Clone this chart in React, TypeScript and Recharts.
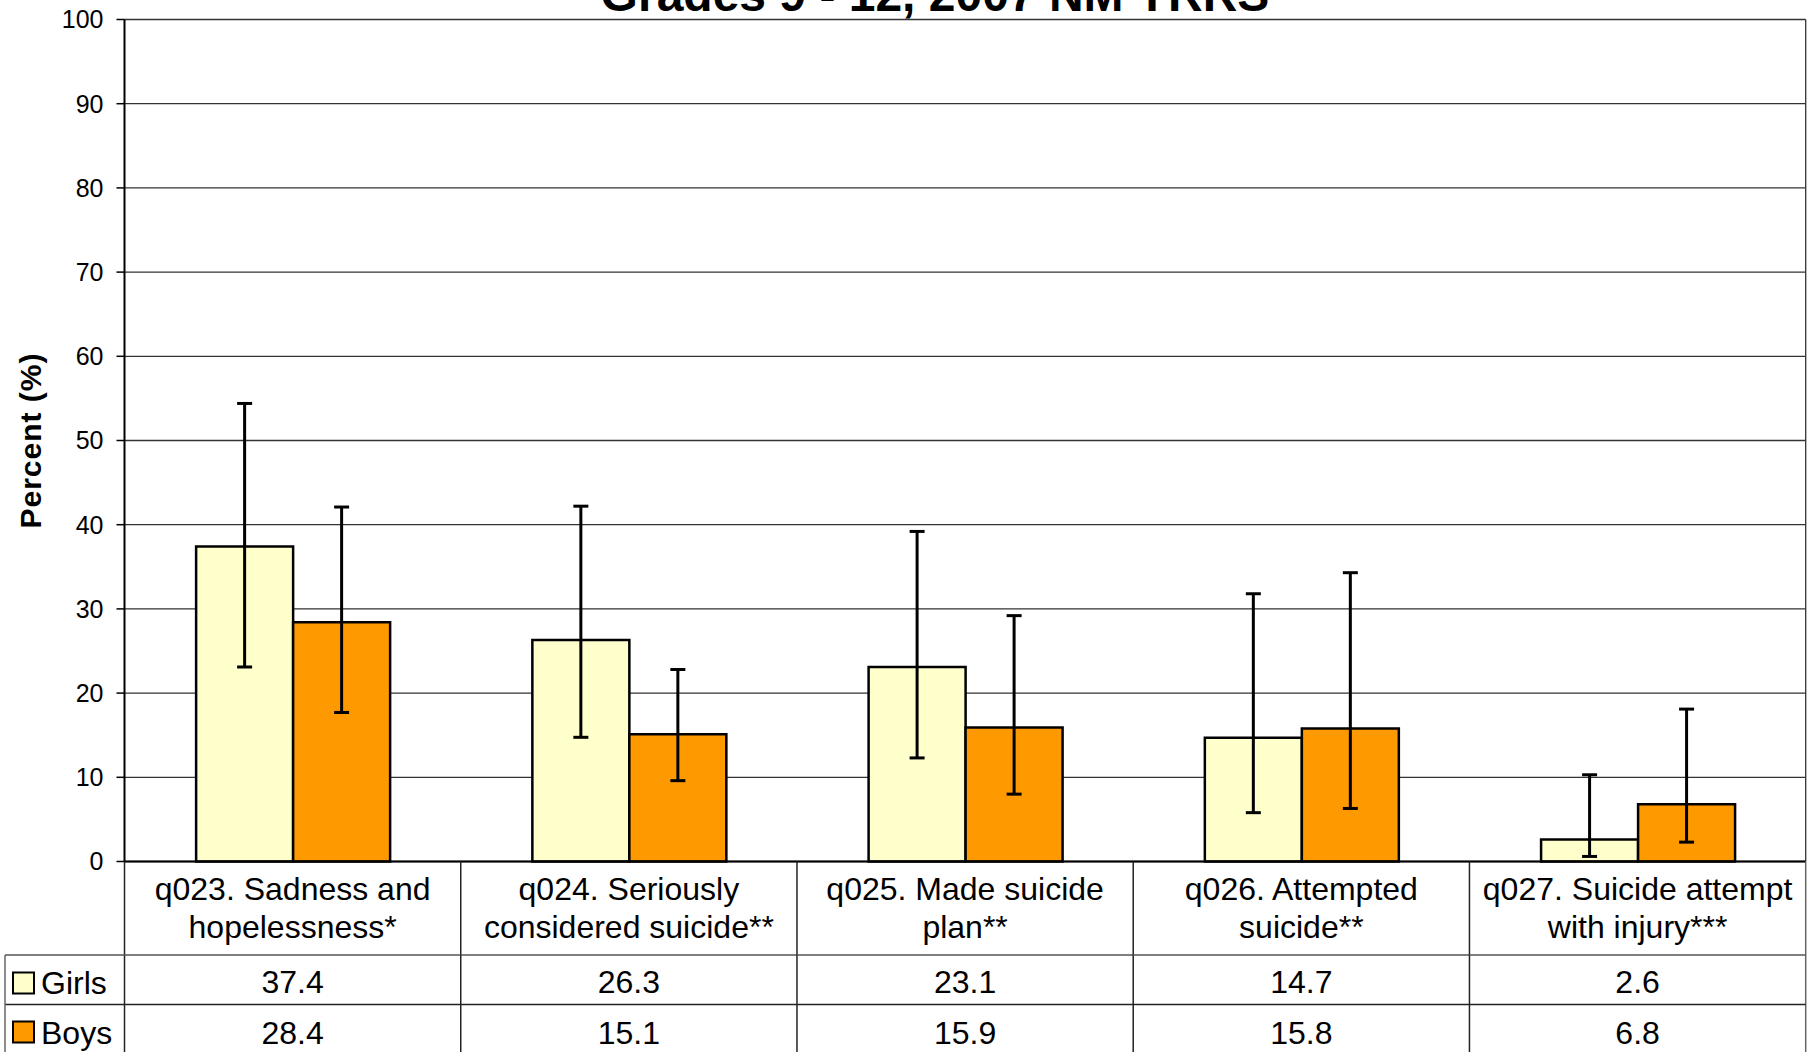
import React from 'react';
import { BarChart, Bar, XAxis, YAxis, CartesianGrid, ErrorBar } from 'recharts';

const FONT = '"Liberation Sans", Arial, sans-serif';

const categories = ['q023', 'q024', 'q025', 'q026', 'q027'];
const categoryLines = [
  ['q023. Sadness and', 'hopelessness*'],
  ['q024. Seriously', 'considered suicide**'],
  ['q025. Made suicide', 'plan**'],
  ['q026. Attempted', 'suicide**'],
  ['q027. Suicide attempt', 'with injury***'],
];
const girls = [37.4, 26.3, 23.1, 14.7, 2.6];
const boys = [28.4, 15.1, 15.9, 15.8, 6.8];
const girlsLow = [23.1, 14.75, 12.3, 5.8, 0.6];
const girlsHigh = [54.4, 42.2, 39.2, 31.8, 10.3];
const boysLow = [17.7, 9.6, 8.0, 6.3, 2.3];
const boysHigh = [42.1, 22.8, 29.2, 34.3, 18.1];
const yTicks = [0, 10, 20, 30, 40, 50, 60, 70, 80, 90, 100];
const seriesNames = ['Girls', 'Boys'];
const seriesColors = ['#FFFFCC', '#FF9900'];

const data = categories.map((c, i) => ({
  name: c,
  girls: girls[i],
  boys: boys[i],
  girlsErr: [+(girls[i] - girlsLow[i]).toFixed(2), +(girlsHigh[i] - girls[i]).toFixed(2)],
  boysErr: [+(boys[i] - boysLow[i]).toFixed(2), +(boysHigh[i] - boys[i]).toFixed(2)],
}));

const LINE = '#222';

const TableTick = (props: any) => {
  const { x, y, payload, index, visibleTicksCount, width } = props;
  const half = payload && payload.offset ? payload.offset : (width || 1681) / (visibleTicksCount || 5) / 2;
  const left = x - half;
  const right = x + half;
  const r1 = y + 93.5;
  const r2 = y + 143;
  const bottom = y + 200;
  const lines = categoryLines[index] || [String(payload.value)];
  const txt = { fontFamily: FONT, fontSize: 32, fill: '#000', textAnchor: 'middle' as const };
  const legendLeft = left - 119.5;
  return (
    <g>
      <line x1={left} y1={y} x2={left} y2={bottom} stroke={LINE} strokeWidth={1.5} />
      {index === (visibleTicksCount || 5) - 1 && (
        <line x1={right} y1={y} x2={right} y2={bottom} stroke="#666" strokeWidth={1.5} />
      )}
      <line x1={index === 0 ? legendLeft : left} y1={r1} x2={right} y2={r1} stroke="#555" strokeWidth={1.5} />
      <line x1={index === 0 ? legendLeft : left} y1={r2} x2={right} y2={r2} stroke={LINE} strokeWidth={1.5} />
      {lines.map((l, k) => (
        <text key={k} x={x} y={y + 38.5 + k * 37.5} {...txt}>{l}</text>
      ))}
      <text x={x} y={y + 131.5} {...txt}>{girls[index].toFixed(1)}</text>
      <text x={x} y={y + 182} {...txt}>{boys[index].toFixed(1)}</text>
      {index === 0 && (
        <g>
          <line x1={legendLeft} y1={r1} x2={legendLeft} y2={bottom} stroke="#666" strokeWidth={1.5} />
          {seriesNames.map((s, k) => (
            <g key={s}>
              <rect x={legendLeft + 8} y={y + 111 + k * 49} width={21} height={21} fill={seriesColors[k]} stroke="#000" strokeWidth={2} />
              <text x={legendLeft + 36} y={y + 132 + k * 50} fontFamily={FONT} fontSize={32} fill="#000">{s}</text>
            </g>
          ))}
        </g>
      )}
    </g>
  );
};

const YLabel = (props: any) => {
  const vb = props.viewBox || {};
  const cx = (vb.x || 0) + 30.5;
  const cy = (vb.y || 0) + (vb.height || 0) / 2;
  return (
    <text
      x={cx}
      y={cy}
      transform={`rotate(-90, ${cx}, ${cy})`}
      textAnchor="middle"
      dominantBaseline="central"
      fontFamily={FONT}
      fontSize={30}
      fontWeight="bold"
      letterSpacing={1}
      fill="#000"
    >
      Percent (%)
    </text>
  );
};

export default function App() {
  return (
    <div style={{ position: 'absolute', left: 0, top: 0, width: 1813, height: 1052, overflow: 'hidden', background: '#fff' }}>
      <BarChart
        width={1813}
        height={1052}
        data={data}
        margin={{ top: 19.5, right: 7.3, bottom: 0, left: 0 }}
        barCategoryGap="21.3%"
        barGap={0}
      >
        <CartesianGrid
          horizontal={true}
          vertical={true}
          stroke="#333"
          strokeWidth={1.3}
          verticalCoordinatesGenerator={(p: any) => {
            const o = p && p.offset;
            return o ? [o.left + o.width] : [];
          }}
        />
        <XAxis
          dataKey="name"
          height={190.5}
          interval={0}
          tickSize={0}
          tickMargin={0}
          tickLine={false}
          axisLine={{ stroke: '#000', strokeWidth: 2 }}
          tick={<TableTick />}
        />
        <YAxis
          width={124.5}
          domain={[0, 100]}
          ticks={yTicks}
          interval={0}
          tickSize={8}
          tickMargin={13}
          axisLine={{ stroke: '#000', strokeWidth: 2 }}
          tickLine={{ stroke: '#000', strokeWidth: 1.5 }}
          tick={{ fontSize: 25, fill: '#000', fontFamily: FONT }}
          label={<YLabel />}
        />
        <Bar dataKey="girls" name="Girls" fill={seriesColors[0]} stroke="#000" strokeWidth={2.5} isAnimationActive={false}>
          <ErrorBar dataKey="girlsErr" width={7.5} stroke="#000" strokeWidth={3} isAnimationActive={false} />
        </Bar>
        <Bar dataKey="boys" name="Boys" fill={seriesColors[1]} stroke="#000" strokeWidth={2.5} isAnimationActive={false}>
          <ErrorBar dataKey="boysErr" width={7.5} stroke="#000" strokeWidth={3} isAnimationActive={false} />
        </Bar>
      </BarChart>
      <svg width={1813} height={1052} style={{ position: 'absolute', left: 0, top: 0, pointerEvents: 'none' }}>
        <text x={935} y={11} textAnchor="middle" fontFamily={FONT} fontSize={48} fontWeight="bold" fill="#000">
          Grades 9 - 12, 2007 NM YRRS
        </text>
      </svg>
    </div>
  );
}
